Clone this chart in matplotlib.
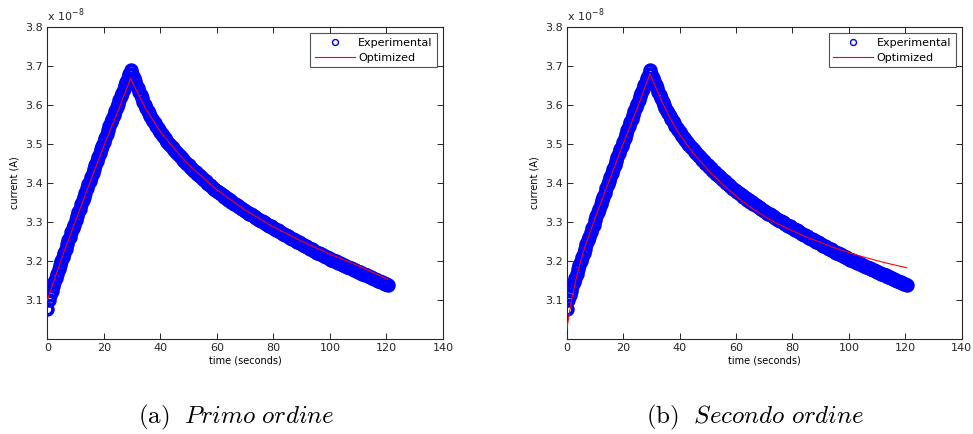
import numpy as np
import matplotlib
matplotlib.use("Agg")
import matplotlib.pyplot as plt

plt.rcParams['mathtext.fontset'] = 'cm'
plt.rcParams['font.family'] = ['DejaVu Sans']

# ---------------- data (current in units of 1e-8 A) ----------------
sample_period = 0.5  # seconds between experimental samples

exp_rise = [
    3.076, 3.100, 3.112, 3.123, 3.134, 3.145, 3.156, 3.167, 3.178, 3.189,
    3.200, 3.210, 3.221, 3.231, 3.242, 3.252, 3.262, 3.273, 3.283, 3.293,
    3.304, 3.314, 3.324, 3.334, 3.345, 3.355, 3.365, 3.375, 3.386, 3.396,
    3.406, 3.416, 3.426, 3.436, 3.446, 3.456, 3.466, 3.476, 3.486, 3.496,
    3.506, 3.516, 3.526, 3.536, 3.546, 3.556, 3.565, 3.575, 3.585, 3.594,
    3.604, 3.613, 3.623, 3.632, 3.642, 3.651, 3.660, 3.669, 3.679, 3.690,
]
exp_decay = [
    3.680, 3.670, 3.661, 3.652, 3.643, 3.634, 3.625, 3.617, 3.609, 3.601,
    3.593, 3.586, 3.579, 3.572, 3.565, 3.559, 3.553, 3.547, 3.541, 3.535,
    3.530, 3.525, 3.520, 3.515, 3.510, 3.506, 3.501, 3.497, 3.493, 3.489,
    3.485, 3.480, 3.476, 3.472, 3.468, 3.464, 3.460, 3.456, 3.452, 3.448,
    3.445, 3.441, 3.438, 3.434, 3.431, 3.427, 3.424, 3.420, 3.417, 3.414,
    3.410, 3.407, 3.404, 3.401, 3.398, 3.394, 3.391, 3.388, 3.385, 3.382,
    3.379, 3.376, 3.373, 3.371, 3.368, 3.365, 3.363, 3.360, 3.357, 3.355,
    3.352, 3.350, 3.347, 3.345, 3.342, 3.340, 3.338, 3.335, 3.333, 3.330,
    3.328, 3.326, 3.323, 3.321, 3.319, 3.317, 3.314, 3.312, 3.310, 3.307,
    3.305, 3.303, 3.301, 3.299, 3.297, 3.295, 3.292, 3.290, 3.288, 3.286,
    3.284, 3.282, 3.280, 3.278, 3.276, 3.274, 3.271, 3.269, 3.267, 3.265,
    3.263, 3.261, 3.259, 3.257, 3.255, 3.253, 3.251, 3.249, 3.247, 3.245,
    3.243, 3.241, 3.239, 3.237, 3.235, 3.233, 3.231, 3.229, 3.227, 3.225,
    3.223, 3.221, 3.219, 3.218, 3.216, 3.214, 3.212, 3.210, 3.209, 3.207,
    3.205, 3.203, 3.202, 3.200, 3.198, 3.197, 3.195, 3.193, 3.191, 3.190,
    3.188, 3.186, 3.185, 3.183, 3.182, 3.180, 3.178, 3.177, 3.175, 3.174,
    3.172, 3.170, 3.169, 3.167, 3.166, 3.164, 3.162, 3.161, 3.159, 3.158,
    3.156, 3.154, 3.153, 3.151, 3.149, 3.148, 3.146, 3.144, 3.143, 3.141,
    3.140, 3.138,
]
exp_current = exp_rise + exp_decay
exp_time = np.arange(len(exp_current)) * sample_period

# first-order optimized model
fit1_time = [0, 5, 10, 15, 20, 25, 29.5, 30, 35, 40, 45, 50, 60, 70, 80, 90, 100, 110, 120.5]
fit1_current = [3.098, 3.205, 3.302, 3.400, 3.495, 3.585, 3.669, 3.660, 3.588, 3.532,
                3.487, 3.447, 3.382, 3.330, 3.287, 3.250, 3.217, 3.187, 3.152]

# second-order optimized model
fit2_time = [0, 1, 2, 3, 4, 5, 6, 7, 8, 10, 15, 20, 25, 29.5,
             31, 33, 35, 37.5, 40, 45, 50, 55, 60, 65, 70, 75, 80, 85, 90,
             95, 100, 105, 110, 115, 120.5]
fit2_current = [3.022, 3.068, 3.108, 3.143, 3.173, 3.200, 3.224, 3.247, 3.268, 3.308,
                3.405, 3.500, 3.592, 3.681,
                3.655, 3.621, 3.590, 3.555, 3.525, 3.475, 3.434, 3.398, 3.366, 3.338,
                3.314, 3.294, 3.277, 3.261, 3.247, 3.233, 3.221, 3.210, 3.200, 3.191, 3.182]

x_ticks = [0, 20, 40, 60, 80, 100, 120, 140]
y_ticks = [3.1, 3.2, 3.3, 3.4, 3.5, 3.6, 3.7, 3.8]
captions = [r'$\mathrm{(a)}\ \ \mathit{Primo\ ordine}$', r'$\mathrm{(b)}\ \ \mathit{Secondo\ ordine}$']
fits = [(fit1_time, fit1_current), (fit2_time, fit2_current)]

# ---------------- figure ----------------
W, H = 973, 434
fig = plt.figure(figsize=(W / 100, H / 100), dpi=100)
fig.patch.set_facecolor('white')

axes_px = [(47.3, 443.0), (566.7, 961.7)]
top_px, bot_px = 27.3, 338.5
axis_col = '#262626'

for i, (x0, x1) in enumerate(axes_px):
    ax = fig.add_axes([x0 / W, 1 - bot_px / H, (x1 - x0) / W, (bot_px - top_px) / H])
    ax.plot(exp_time, exp_current, 'o', color='blue', markerfacecolor='none',
            markersize=7.8, markeredgewidth=2.6, label='Experimental', zorder=2)
    ax.plot(fits[i][0], fits[i][1], '-', color='red', lw=0.8, label='Optimized', zorder=3)
    ax.set_xlim(0, 140)
    ax.set_ylim(3.0, 3.8)
    ax.set_xticks(x_ticks)
    ax.set_yticks(y_ticks)
    ax.set_xticklabels([str(v) for v in x_ticks])
    ax.set_yticklabels([f'{v:.1f}' for v in y_ticks])
    ax.tick_params(direction='in', length=4, width=0.7, top=True, right=True,
                   labelsize=8, colors=axis_col, pad=3)
    for s in ax.spines.values():
        s.set_color(axis_col)
        s.set_linewidth(0.8)
    ax.set_xlabel('time (seconds)', fontsize=7, color='black', labelpad=2)
    ax.set_ylabel('current (A)', fontsize=7, color='black', labelpad=4)
    ax.text(0.0, 1.012, r'x 10$^{\mathdefault{-8}}$', transform=ax.transAxes, fontsize=8,
            color=axis_col, ha='left', va='bottom')
    leg = ax.legend(loc='upper right', fontsize=8, frameon=True, fancybox=False,
                    borderaxespad=0.55, handlelength=3.6, handletextpad=0.3,
                    borderpad=0.4, labelspacing=0.45, markerscale=0.55)
    leg.get_frame().set_edgecolor(axis_col)
    leg.get_frame().set_linewidth(0.8)
    for h in leg.legend_handles:
        try:
            h.set_markeredgewidth(1.0)
        except Exception:
            pass
    cx = (x0 + x1) / 2 - 9
    fig.text(cx / W, 1 - 417 / H, captions[i], fontsize=18, ha='center', va='center')

fig.savefig('out.png', dpi=100, facecolor='white')
